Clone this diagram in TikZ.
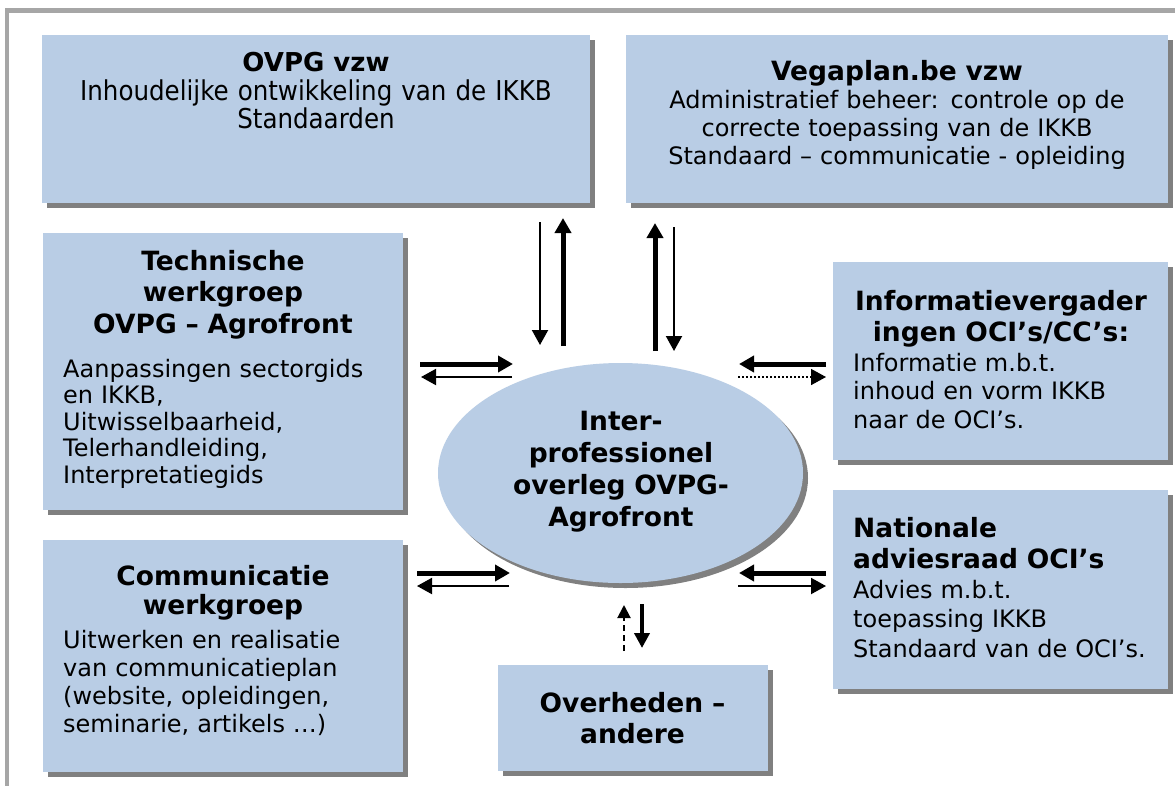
\documentclass[tikz,border=0pt]{standalone}
\usepackage{fontspec}
\setmainfont{DejaVu Sans}
\newfontfamily\condfont{DejaVu Sans Condensed}
\usetikzlibrary{shapes.geometric,shadows,arrows.meta}
\definecolor{boxblue}{HTML}{B9CDE5}
\definecolor{shadowgray}{HTML}{808080}
\definecolor{framegray}{HTML}{A6A6A6}
\begin{document}
\begin{tikzpicture}[x=1pt,y=-1pt,
  blockbox/.style={fill=boxblue, draw=none, inner sep=0pt, anchor=north west,
    general shadow={fill=shadowgray, shadow xshift=5pt, shadow yshift=-5pt}},
  ctitle/.style={anchor=base, inner sep=0pt, text width=#1, align=center,
    font=\fontsize{26.5}{31}\selectfont\bfseries},
  ltitle/.style={anchor=base west, inner sep=0pt, text width=#1, align=left,
    font=\fontsize{26.5}{31}\selectfont\bfseries},
  cbody/.style={anchor=base, inner sep=0pt, text width=#1, align=center,
    font=\fontsize{24}{28}\selectfont},
  lbody/.style={anchor=base west, inner sep=0pt, text width=#1, align=left,
    font=\fontsize{24}{28.5}\selectfont},
  thickarrow/.style={line width=5pt, -{Triangle[width=16pt,length=15pt]}},
  thinarrow/.style={line width=2pt, -{Triangle[width=16pt,length=15pt]}},
  dotarrow/.style={line width=1.6pt, dash pattern=on 1.6pt off 2.4pt, -{Triangle[width=16pt,length=15pt]}},
  dasharrow/.style={line width=2pt, dash pattern=on 6pt off 4pt, -{Triangle[width=13pt,length=13pt]}}
]
\useasboundingbox (0,0) rectangle (1175,785);
\fill[white] (0,0) rectangle (1175,785);
% outer frame
\draw[framegray, line width=4.5pt] (7,800) -- (7,10.5) -- (1190,10.5);

% boxes
\node[blockbox, minimum width=548pt, minimum height=168pt] (ovpg) at (42,35) {};
\node[blockbox, minimum width=542pt, minimum height=168pt] (vega) at (626,35) {};
\node[blockbox, minimum width=360pt, minimum height=277pt] (tech) at (43,233) {};
\node[blockbox, minimum width=360pt, minimum height=232pt] (comm) at (43,540) {};
\node[blockbox, minimum width=270pt, minimum height=106pt] (over) at (498,665) {};
\node[blockbox, minimum width=335pt, minimum height=198pt] (info) at (833,262) {};
\node[blockbox, minimum width=335pt, minimum height=199pt] (nat) at (833,490) {};
\node[ellipse, fill=boxblue, draw=none, inner sep=0pt, minimum width=365pt, minimum height=220pt,
  general shadow={fill=shadowgray, shadow xshift=5pt, shadow yshift=-5pt}] (core) at (620.5,473) {};

% texts
\node[anchor=base, inner sep=0pt, font=\fontsize{26}{31}\selectfont\bfseries] (ovpgT) at (316,71) {OVPG vzw};
\node[anchor=base, inner sep=0pt, text width=540pt, align=center, font=\condfont\fontsize{27.3}{28.5}\selectfont] (ovpgB) at (316,100)
  {Inhoudelijke ontwikkeling van de IKKB\\Standaarden};

\node[ctitle=530pt] (vegaT) at (897,80) {Vegaplan.be vzw};
\node[cbody=530pt] (vegaB) at (897,108)
  {Administratief beheer: controle op de\\correcte toepassing van de IKKB\\Standaard – communicatie - opleiding};

\node[ctitle=350pt, font=\fontsize{26.5}{31.7}\selectfont\bfseries] (techT) at (223,270)
  {Technische\\werkgroep\\OVPG – Agrofront};
\node[lbody=330pt, font=\fontsize{24}{26.6}\selectfont] (techB) at (63,377)
  {Aanpassingen sectorgids\\en IKKB,\\Uitwisselbaarheid,\\Telerhandleiding,\\Interpretatiegids};

\node[ctitle=350pt, font=\fontsize{26.5}{29}\selectfont\bfseries] (commT) at (223,585)
  {Communicatie\\werkgroep};
\node[lbody=330pt, font=\fontsize{24}{28}\selectfont] (commB) at (63,648)
  {Uitwerken en realisatie\\van communicatieplan\\(website, opleidingen,\\seminarie, artikels …)};

\node[ctitle=260pt] (overT) at (632.5,712) {Overheden –\\andere};

\node[ctitle=330pt] (infoT) at (1001,310) {Informatievergader\\ingen OCI’s/CC’s:};
\node[lbody=310pt] (infoB) at (853,371)
  {Informatie m.b.t.\\inhoud en vorm IKKB\\naar de OCI’s.};

\node[ltitle=310pt] (natT) at (853,537) {Nationale\\adviesraad OCI’s};
\node[lbody=310pt, font=\fontsize{24}{29.5}\selectfont] (natB) at (853,598)
  {Advies m.b.t.\\toepassing IKKB\\Standaard van de OCI’s.};

\node[ctitle=340pt, font=\fontsize{26.5}{32.3}\selectfont\bfseries] (coreT) at (621,430)
  {Inter-\\professionel\\overleg OVPG-\\Agrofront};

% arrow end points
\coordinate (a1s) at (540,222); \coordinate (a1e) at (540,345);
\coordinate (a2s) at (563,346); \coordinate (a2e) at (563,218);
\coordinate (a3s) at (655,351); \coordinate (a3e) at (655,223);
\coordinate (a4s) at (674,227); \coordinate (a4e) at (674,351);
\coordinate (l1s) at (420,364); \coordinate (l1e) at (513,364);
\coordinate (l2s) at (512,377); \coordinate (l2e) at (421,377);
\coordinate (r1s) at (826,364); \coordinate (r1e) at (739,364);
\coordinate (r2s) at (738,377); \coordinate (r2e) at (826,377);
\coordinate (l3s) at (417,573); \coordinate (l3e) at (510,573);
\coordinate (l4s) at (509,586); \coordinate (l4e) at (417,586);
\coordinate (r3s) at (826,573); \coordinate (r3e) at (739,573);
\coordinate (r4s) at (738,586); \coordinate (r4e) at (826,586);
\coordinate (d1s) at (624,651); \coordinate (d1e) at (624,605);
\coordinate (d2s) at (642,604); \coordinate (d2e) at (642,648);

% arrows
\draw[thinarrow] (a1s) -- (a1e);
\draw[thickarrow] (a2s) -- (a2e);
\draw[thickarrow] (a3s) -- (a3e);
\draw[thinarrow] (a4s) -- (a4e);
\draw[thickarrow] (l1s) -- (l1e);
\draw[thinarrow] (l2s) -- (l2e);
\draw[thickarrow] (r1s) -- (r1e);
\draw[dotarrow] (r2s) -- (r2e);
\draw[thickarrow] (l3s) -- (l3e);
\draw[thinarrow] (l4s) -- (l4e);
\draw[thickarrow] (r3s) -- (r3e);
\draw[thinarrow] (r4s) -- (r4e);
\draw[dasharrow] (d1s) -- (d1e);
\draw[line width=4pt, -{Triangle[width=15pt,length=15pt]}] (d2s) -- (d2e);
\end{tikzpicture}
\end{document}
